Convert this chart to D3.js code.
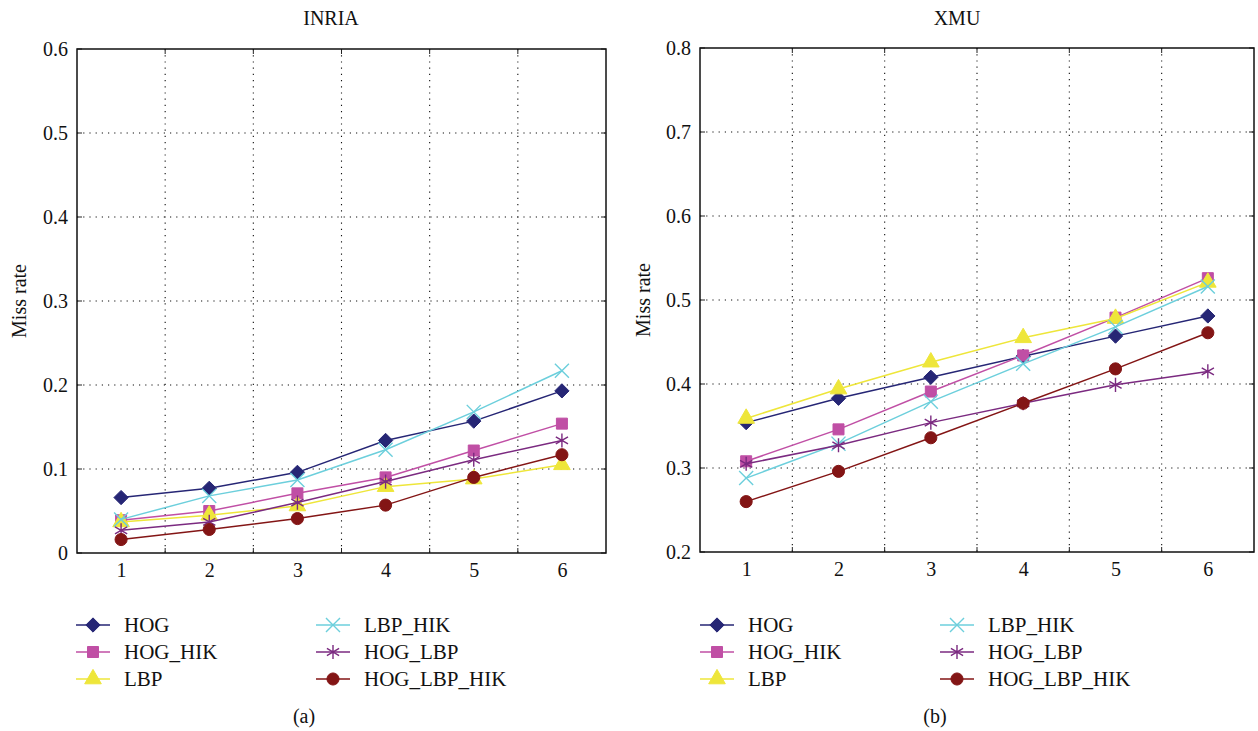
<!DOCTYPE html>
<html>
<head>
<meta charset="utf-8">
<script src="https://cdn.jsdelivr.net/npm/d3@7"></script>
<style>
  body { margin: 0; background: #fff; }
  text { font-family: "Liberation Serif", "DejaVu Serif", serif; fill: #111; }
</style>
</head>
<body>
<div id="chart"></div>
<script>
const categories = [1, 2, 3, 4, 5, 6];
const seriesNames = ["HOG", "HOG_HIK", "LBP", "LBP_HIK", "HOG_LBP", "HOG_LBP_HIK"];

// INRIA (a)
const inriaHOG         = [0.066, 0.077, 0.096, 0.134, 0.157, 0.193];
const inriaHOG_HIK     = [0.039, 0.050, 0.071, 0.090, 0.122, 0.154];
const inriaLBP         = [0.037, 0.045, 0.056, 0.079, 0.088, 0.105];
const inriaLBP_HIK     = [0.040, 0.068, 0.087, 0.123, 0.168, 0.217];
const inriaHOG_LBP     = [0.027, 0.037, 0.060, 0.085, 0.111, 0.134];
const inriaHOG_LBP_HIK = [0.016, 0.028, 0.041, 0.057, 0.090, 0.117];

// XMU (b)
const xmuHOG         = [0.354, 0.383, 0.408, 0.433, 0.457, 0.481];
const xmuHOG_HIK     = [0.308, 0.346, 0.391, 0.434, 0.479, 0.526];
const xmuLBP         = [0.359, 0.394, 0.426, 0.455, 0.478, 0.521];
const xmuLBP_HIK     = [0.288, 0.329, 0.379, 0.424, 0.468, 0.516];
const xmuHOG_LBP     = [0.305, 0.327, 0.354, 0.377, 0.399, 0.415];
const xmuHOG_LBP_HIK = [0.260, 0.296, 0.336, 0.377, 0.418, 0.461];

const inriaTicks = [0, 0.1, 0.2, 0.3, 0.4, 0.5, 0.6];
const xmuTicks = [0.2, 0.3, 0.4, 0.5, 0.6, 0.7, 0.8];

const colors = ["#262675", "#c04fa5", "#eee63a", "#6ccfdc", "#7b2a80", "#831515"];
const symbols = [d3.symbolDiamond2, d3.symbolSquare, d3.symbolTriangle, d3.symbolTimes, d3.symbolAsterisk, d3.symbolCircle];
const symSizes = [130, 121, 120, 130, 140, 115];
const filled = [true, true, true, false, false, true];

const W = 1258, H = 731;
const svg = d3.select("#chart").append("svg")
  .attr("width", W).attr("height", H);
svg.append("rect").attr("width", W).attr("height", H).attr("fill", "#fff");

const panels = [
  { title: "INRIA", tag: "(a)", ticks: inriaTicks, domain: [0, 0.6],
    series: [inriaHOG, inriaHOG_HIK, inriaLBP, inriaLBP_HIK, inriaHOG_LBP, inriaHOG_LBP_HIK],
    left: 77, right: 606, top: 49, bottom: 553, titleX: 331, ylabX: 26, tagX: 304, legX: [76, 316] },
  { title: "XMU", tag: "(b)", ticks: xmuTicks, domain: [0.2, 0.8],
    series: [xmuHOG, xmuHOG_HIK, xmuLBP, xmuLBP_HIK, xmuHOG_LBP, xmuHOG_LBP_HIK],
    left: 700, right: 1254, top: 48, bottom: 552, titleX: 957, ylabX: 650, tagX: 935, legX: [700, 940] }
];

function marker(g, i, x, y) {
  g.append("path")
    .attr("d", d3.symbol().type(symbols[i]).size(symSizes[i]))
    .attr("transform", `translate(${x},${y})`)
    .attr("fill", filled[i] ? colors[i] : "none")
    .attr("stroke", colors[i])
    .attr("stroke-width", filled[i] ? 1 : 1.4);
}

panels.forEach(p => {
  const x = d3.scaleLinear().domain([0.5, 6.5]).range([p.left, p.right]);
  const y = d3.scaleLinear().domain(p.domain).range([p.bottom, p.top]);
  const g = svg.append("g");
  const bounds = [1.5, 2.5, 3.5, 4.5, 5.5];

  // dotted grid
  g.selectAll(".hgrid").data(p.ticks.slice(1, -1)).enter().append("line")
    .attr("x1", p.left).attr("x2", p.right)
    .attr("y1", d => y(d)).attr("y2", d => y(d))
    .attr("stroke", "#111").attr("stroke-width", 1.1).attr("stroke-dasharray", "1.2,5");
  g.selectAll(".vgrid").data(bounds).enter().append("line")
    .attr("x1", d => x(d)).attr("x2", d => x(d))
    .attr("y1", p.top).attr("y2", p.bottom)
    .attr("stroke", "#111").attr("stroke-width", 1.1).attr("stroke-dasharray", "1.2,5");

  // small inward ticks
  bounds.forEach(b => {
    g.append("line").attr("x1", x(b)).attr("x2", x(b)).attr("y1", p.bottom).attr("y2", p.bottom - 5).attr("stroke", "#222");
    g.append("line").attr("x1", x(b)).attr("x2", x(b)).attr("y1", p.top).attr("y2", p.top + 5).attr("stroke", "#222");
  });
  p.ticks.forEach(t => {
    g.append("line").attr("x1", p.left).attr("x2", p.left + 5).attr("y1", y(t)).attr("y2", y(t)).attr("stroke", "#222");
    g.append("line").attr("x1", p.right).attr("x2", p.right - 5).attr("y1", y(t)).attr("y2", y(t)).attr("stroke", "#222");
  });

  // axes labels
  const yAxis = g.append("g").attr("transform", `translate(${p.left},0)`)
    .call(d3.axisLeft(y).tickValues(p.ticks).tickSize(0).tickPadding(9).tickFormat(d3.format("~g")));
  yAxis.select(".domain").remove();
  yAxis.attr("font-family", null);
  yAxis.selectAll("text").style("font-size", "20px").style("font-family", '"Liberation Serif", serif').attr("fill", "#111");

  const xAxis = g.append("g").attr("transform", `translate(0,${p.bottom})`)
    .call(d3.axisBottom(x).tickValues(categories).tickSize(0).tickPadding(10).tickFormat(d3.format("d")));
  xAxis.select(".domain").remove();
  xAxis.attr("font-family", null);
  xAxis.selectAll("text").style("font-size", "20px").style("font-family", '"Liberation Serif", serif').attr("fill", "#111");

  // box
  g.append("rect").attr("x", p.left).attr("y", p.top)
    .attr("width", p.right - p.left).attr("height", p.bottom - p.top)
    .attr("fill", "none").attr("stroke", "#111").attr("stroke-width", 1.5);

  // series
  const line = d3.line().x((d, j) => x(categories[j])).y(d => y(d));
  p.series.forEach((vals, i) => {
    g.append("path").datum(vals).attr("d", line)
      .attr("fill", "none").attr("stroke", colors[i]).attr("stroke-width", 1.5);
    vals.forEach((v, j) => marker(g, i, x(categories[j]), y(v)));
  });

  // titles
  g.append("text").attr("x", p.titleX).attr("y", 25).attr("text-anchor", "middle")
    .style("font-size", "20px").text(p.title);
  g.append("text").attr("transform", `translate(${p.ylabX},${(p.top + p.bottom) / 2}) rotate(-90)`)
    .attr("text-anchor", "middle").style("font-size", "20px").text("Miss rate");
  g.append("text").attr("x", p.tagX).attr("y", 723).attr("text-anchor", "middle")
    .style("font-size", "20px").text(p.tag);

  // legend
  const rows = [625, 652, 679];
  seriesNames.forEach((name, i) => {
    const lx = p.legX[Math.floor(i / 3)];
    const ly = rows[i % 3];
    g.append("line").attr("x1", lx).attr("x2", lx + 34).attr("y1", ly).attr("y2", ly)
      .attr("stroke", colors[i]).attr("stroke-width", 1.5);
    marker(g, i, lx + 17, ly);
    g.append("text").attr("x", lx + 48).attr("y", ly + 7).style("font-size", "21px").text(name);
  });
});
</script>
</body>
</html>
